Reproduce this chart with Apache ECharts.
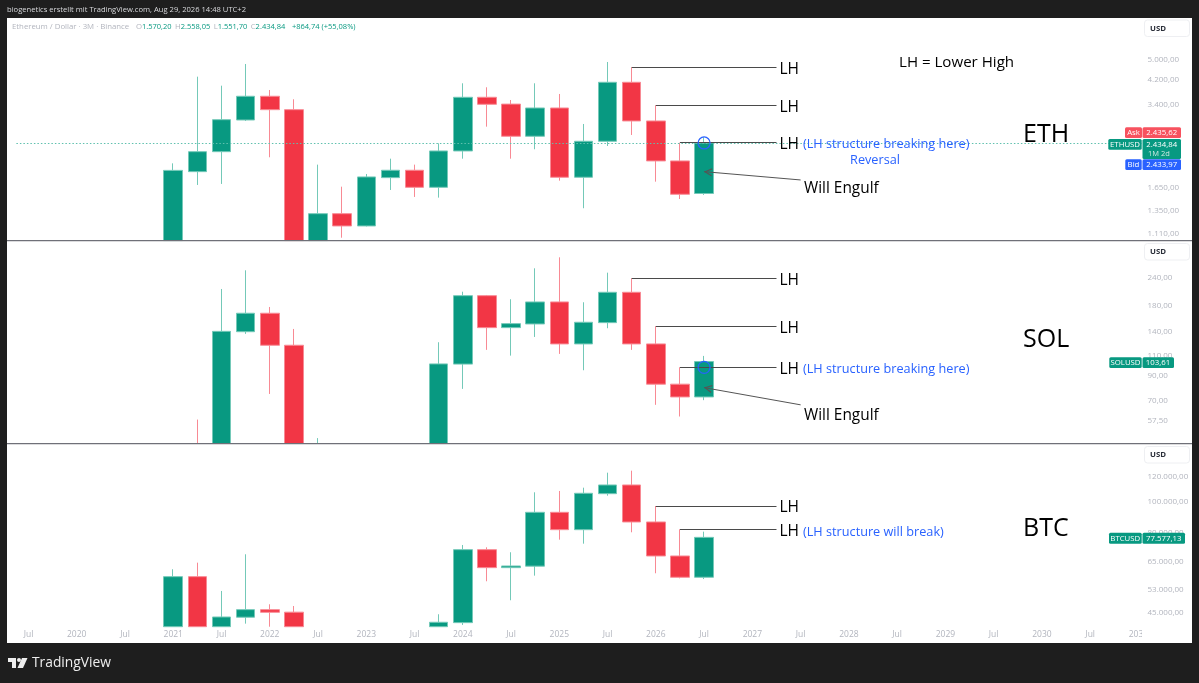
<!DOCTYPE html>
<html>
<head>
<meta charset="utf-8">
<title>ETH SOL BTC 3M</title>
<script src="https://cdn.jsdelivr.net/npm/echarts@6/dist/echarts.min.js"></script>
<style>
html, body { margin: 0; padding: 0; background: #1e1e1e; }
#chart { width: 1199px; height: 683px; }
</style>
</head>
<body>
<div id="chart"></div>
<script>
// quarters from 2019 Q3 to 2031 Q1, first candle is 2021 Q1
var quarters = []
for (var y = 2019; y <= 2031; y++) {
    for (var q = 1; q <= 4; q++) {
        if ((y == 2019 && q < 3) || (y == 2031 && q > 1)) continue
        quarters.push(y + ' Q' + q)
    }
}
var firstCandle = 6

// open, close, low, high
var ethCandles = [
    [737, 1919, 716, 2040], [1898, 2257, 1691, 4326], [2257, 2979, 1706, 4001], [2971, 3650, 2946, 4829],
    [3650, 3249, 2150, 3854], [3249, 1030, 880, 3556], [1030, 1318, 900, 2017], [1318, 1185, 1070, 1666],
    [1185, 1813, 1180, 1860], [1802, 1921, 1619, 2124], [1921, 1657, 1524, 2017], [1657, 2271, 1515, 2427],
    [2271, 3618, 2124, 4085], [3618, 3405, 2804, 3946], [3410, 2580, 2124, 3534], [2580, 3297, 2305, 4085],
    [3297, 1808, 1755, 3723], [1808, 2470, 1382, 2870], [2470, 4121, 2371, 4914], [4121, 2946, 2609, 4693],
    [2946, 2083, 1740, 3375], [2083, 1560, 1497, 2440], [1570.20, 2434.84, 1551.70, 2558.05]
]
var solCandles = [
    [1.5, 19, 1.1, 24], [19, 36, 14, 58.1], [34, 140, 22, 213.6], [139.5, 167.7, 136.5, 257.3],
    [167.7, 121.9, 75, 178.5], [121.9, 33, 26, 143.4], [36, 32, 26, 48.3], [33, 10, 8, 38],
    [10, 21, 8, 27], [21, 19, 14, 27], [19, 21, 17, 32], [21, 101.2, 17, 125.6],
    [101, 199.8, 78.9, 207.9], [199.8, 145.3, 116.4, 201.2], [145.3, 151.2, 109.9, 192.8], [150.7, 187.7, 132.4, 262.5],
    [187.7, 123.5, 111.8, 292.9], [123.5, 153.3, 95, 187.1], [152.7, 206.7, 144.4, 251.3], [206.7, 123.5, 116.4, 237.6],
    [123.5, 82.7, 67.3, 147.3], [82.7, 72.8, 59.9, 97.9], [72.8, 103.61, 70.5, 109.6]
]
var btcCandles = [
    [29000, 58390, 28000, 61600], [58390, 35000, 30000, 64610], [35000, 43630, 29000, 52660], [43560, 46010, 41580, 68650],
    [46000, 45140, 35000, 47830], [45180, 19000, 17500, 47240], [19400, 19400, 18200, 24600], [19400, 16500, 15500, 21400],
    [16500, 28400, 16400, 29100], [28400, 30400, 25000, 31400], [30400, 27000, 24900, 31800], [27000, 42000, 26000, 44500],
    [41880, 70970, 41190, 73420], [70970, 62320, 56480, 72200], [62320, 63080, 49240, 69650], [63000, 92970, 58820, 107440],
    [92970, 82000, 76290, 108460], [82000, 106670, 74110, 111070], [106360, 113260, 104830, 123790], [113260, 86690, 80470, 125590],
    [86690, 67810, 59840, 97310], [67810, 58140, 57700, 82240], [58140, 77577.13, 57400, 80830]
]

var ethTicks = [5000, 4200, 3400, 1650, 1350, 1110]
var solTicks = [240, 180, 140, 110, 90, 70, 57.5]
var btcTicks = [120000, 100000, 80000, 65000, 53000, 45000]

var ethLast = 2434.84
var ethLH = [4693, 3375, 2440]
var solLH = [237.6, 147.3, 97.9]
var btcLH = [97310, 82240]

var ethRange = [1049, 7197]
var solRange = [46, 344.6]
var btcRange = [40880, 152300]

var green = '#089981', red = '#f23645', blue = '#2962ff', gray = '#b2b5be'
var greenEdge = '#74c9b8', redEdge = '#f88a94'
var font = '"Open Sans", "Noto Sans", sans-serif'
// the extra point keeps the tip in the middle of the symbol box, so it lands on the coord
var arrowHead = 'path://M5 -10 L5 -10 Z M5 0 L10 10 L8.6 10.6 L5 3 L1.4 10.6 L0 10 Z'

// the pane cuts candles at its bottom edge, candlestick clip does not do this here.
// just under the edge, flat leftovers stay behind the pane separator
function padCandles(list, lo) {
    var edge = lo * 0.995
    var out = []
    for (var i = 0; i < quarters.length; i++) {
        var c = list[i - firstCandle]
        if (c && c[3] > lo) {
            out.push(c.map(function (v) { return Math.max(v, edge) }))
        } else {
            out.push(['-', '-', '-', '-'])
        }
    }
    return out
}

// german number format, as on the price scale
function priceText(v) {
    return v.toLocaleString('de-DE', { minimumFractionDigits: 2, maximumFractionDigits: 2 })
}

function lhLine(from, price) {
    return [
        { coord: [from, price], symbol: 'none' },
        { coord: ['2027 Q2', price], symbol: 'none', label: { show: true, position: 'end', formatter: 'LH', distance: 3, offset: [0, 2], fontSize: 15.5, fontFamily: font, color: '#000' } }
    ]
}

function arrow(fromPrice, toPrice) {
    return [
        { coord: ['2027 Q3', fromPrice], symbol: 'none', lineStyle: { color: '#555' } },
        { coord: ['2026 Q3', toPrice], symbol: arrowHead, symbolSize: [8, 16], lineStyle: { color: '#555' } }
    ]
}

function candle(index, list, lo, lines, circles) {
    return {
        type: 'candlestick',
        xAxisIndex: index,
        yAxisIndex: index,
        data: padCandles(list, lo),
        barWidth: 19,
        itemStyle: { color: green, color0: red, borderColor: greenEdge, borderColor0: redEdge, borderWidth: 1 },
        markLine: {
            silent: true,
            animation: false,
            symbol: ['none', 'none'],
            label: { show: false },
            lineStyle: { color: '#4a4a4a', width: 1, type: 'solid' },
            data: lines
        },
        markPoint: {
            silent: true,
            animation: false,
            symbol: 'circle',
            symbolSize: 12,
            label: { show: false },
            itemStyle: { color: 'rgba(0,0,0,0)', borderColor: blue, borderWidth: 1.2 },
            data: circles
        }
    }
}

function xAxisFor(index, show) {
    return {
        type: 'category',
        gridIndex: index,
        data: quarters,
        axisLine: { show: false },
        axisTick: { show: false },
        splitLine: { show: false },
        axisLabel: {
            show: show,
            interval: 1,
            margin: 4,
            fontSize: 8.5,
            fontFamily: font,
            color: gray,
            formatter: function (v) {
                return v.slice(-1) == '1' ? v.slice(0, 4) : 'Jul'
            }
        }
    }
}

function yAxisFor(index, range, ticks) {
    return {
        type: 'log',
        gridIndex: index,
        position: 'right',
        min: range[0],
        max: range[1],
        axisLine: { show: false },
        axisTick: { show: false },
        splitLine: { show: false },
        axisLabel: {
            customValues: ticks,
            margin: -3,
            padding: [2, 0, 0, 0],
            fontSize: 8,
            fontFamily: font,
            color: gray,
            formatter: function (v) { return priceText(v) }
        }
    }
}

function txt(x, y, text, size, color, extra) {
    var style = { text: text, fill: color, font: (extra && extra.weight || 'normal') + ' ' + size + 'px ' + font, textVerticalAlign: 'middle', textAlign: extra && extra.align || 'left' }
    return { type: 'text', z: 60, x: x, y: y, silent: true, style: style }
}

// small white text of the price tags
function tag(x, y, text) {
    return txt(x, y, text, 7.8, '#fff', { align: 'center', weight: '500' })
}

function box(x, y, w, h, color, r) {
    return { type: 'rect', z: 50, silent: true, shape: { x: x, y: y, width: w, height: h, r: r || 0 }, style: { fill: color } }
}

function usdBox(y) {
    return [
        { type: 'rect', z: 50, silent: true, shape: { x: 1144.5, y: y, width: 45, height: 16.5, r: 3 }, style: { fill: '#fff', stroke: '#eeeff2', lineWidth: 1 } },
        txt(1150, y + 8.5, 'USD', 7.8, '#2a2e39', { weight: 'bold' })
    ]
}

var graphics = [
    // white chart panel
    { type: 'rect', z: -10, silent: true, shape: { x: 7, y: 18, width: 1185, height: 625 }, style: { fill: '#fff' } },
    // pane separators
    { type: 'rect', z: 40, silent: true, shape: { x: 7, y: 240, width: 1185, height: 1.2 }, style: { fill: '#6f7078' } },
    { type: 'rect', z: 40, silent: true, shape: { x: 7, y: 443, width: 1185, height: 1.2 }, style: { fill: '#6f7078' } },
    // cuts the last date label at the price scale
    box(1142, 626, 50, 17, '#fff'),

    txt(7, 9.5, 'biogenetics erstellt mit TradingView.com, Aug 29, 2026 14:48 UTC+2', 7.6, '#d8d9dc'),
    {
        type: 'text', z: 60, x: 12, y: 27, silent: true,
        style: {
            text: '{g|Ethereum / Dollar · 3M · Binance}  {g|O}{v|1.570,20} {g|H}{v|2.558,05} {g|L}{v|1.551,70} {g|C}{v|2.434,84}  {v|+864,74 (+55,08%)}',
            textVerticalAlign: 'middle',
            rich: {
                g: { fill: gray, fontSize: 7.8, fontFamily: font },
                v: { fill: green, fontSize: 7.5, fontFamily: font }
            }
        }
    },

    txt(899, 63, 'LH = Lower High', 15.1, '#000'),
    txt(1023, 135, 'ETH', 25, '#000'),
    txt(1023, 340, 'SOL', 25, '#000'),
    txt(1023, 529, 'BTC', 25, '#000'),
    txt(803, 144, '(LH structure breaking here)', 12.7, blue, { weight: '500' }),
    txt(875, 160, 'Reversal', 12.7, blue, { weight: '500', align: 'center' }),
    txt(803, 369, '(LH structure breaking here)', 12.7, blue, { weight: '500' }),
    txt(803, 532, '(LH structure will break)', 12.7, blue, { weight: '500' }),
    txt(804, 189, 'Will Engulf', 15.4, '#000'),
    txt(804, 416, 'Will Engulf', 15.4, '#000'),

    // price tags
    box(1125, 127.3, 17, 10.7, '#f7525f', 1.5),
    box(1142.5, 127.3, 38.5, 10.7, '#f7525f', 1.5),
    tag(1133.5, 133, 'Ask'),
    tag(1161.7, 133, '2.435,62'),
    box(1108.3, 139, 33.4, 10.7, green, 1.5),
    box(1142.5, 139, 38.5, 20, green, 1.5),
    tag(1125, 144.5, 'ETHUSD'),
    tag(1161.7, 144.5, '2.434,84'),
    txt(1148, 153.5, '1M 2d', 7.5, '#cfe9e3'),
    box(1125.3, 159.3, 16.4, 10.6, blue, 1.5),
    box(1142.5, 159.3, 38.5, 10.6, blue, 1.5),
    tag(1133.5, 165, 'Bid'),
    tag(1161.7, 165, '2.433,97'),

    box(1109.3, 357.3, 32.4, 10.7, green, 1.5),
    box(1142.5, 357.3, 31.5, 10.7, green, 1.5),
    tag(1125.5, 363, 'SOLUSD'),
    tag(1158, 363, '103,61'),

    box(1109, 532.7, 32.7, 11, green, 1.5),
    box(1142.5, 532.7, 42.5, 11, green, 1.5),
    tag(1125.3, 538.5, 'BTCUSD'),
    tag(1163.7, 538.5, '77.577,13'),

    // logo
    { type: 'polygon', z: 60, silent: true, shape: { points: [[8, 658], [16, 658], [16, 668], [12, 668], [12, 662], [8, 662]] }, style: { fill: '#eee' } },
    { type: 'polygon', z: 60, silent: true, shape: { points: [[22, 658], [27.5, 658], [23, 668], [17.5, 668]] }, style: { fill: '#eee' } },
    { type: 'circle', z: 60, silent: true, shape: { cx: 19, cy: 660, r: 2 }, style: { fill: '#eee' } },
    txt(32, 663, 'TradingView', 13.8, '#eee', { weight: '500' })
].concat(usdBox(20), usdBox(243.5), usdBox(446.5))

var option = {
    backgroundColor: '#1e1e1e',
    animation: false,
    textStyle: { fontFamily: font },
    graphic: { elements: graphics },
    grid: [
        { left: 16.4, width: 1134.1, top: 18, height: 222 },
        { left: 16.4, width: 1134.1, top: 241, height: 202 },
        { left: 16.4, width: 1134.1, top: 444, height: 182 }
    ],
    xAxis: [xAxisFor(0, false), xAxisFor(1, false), xAxisFor(2, true)],
    yAxis: [
        yAxisFor(0, ethRange, ethTicks),
        yAxisFor(1, solRange, solTicks),
        yAxisFor(2, btcRange, btcTicks)
    ],
    series: [
        candle(0, ethCandles, ethRange[0], [
            { yAxis: ethLast, symbol: 'none', lineStyle: { color: '#5fc0ae', type: [1.5, 2], width: 1 } },
            lhLine('2025 Q4', ethLH[0]),
            lhLine('2026 Q1', ethLH[1]),
            lhLine('2026 Q2', ethLH[2]),
            arrow(1766, 1898)
        ], [{ coord: ['2026 Q3', 2434] }]),
        candle(1, solCandles, solRange[0], [
            lhLine('2025 Q4', solLH[0]),
            lhLine('2026 Q1', solLH[1]),
            lhLine('2026 Q2', solLH[2]),
            arrow(67.3, 79.9)
        ], [{ coord: ['2026 Q3', 97.8] }]),
        candle(2, btcCandles, btcRange[0], [
            lhLine('2026 Q1', btcLH[0]),
            lhLine('2026 Q2', btcLH[1])
        ], [])
    ]
}

var myChart = echarts.init(document.getElementById('chart'))
myChart.setOption(option)
</script>
</body>
</html>
